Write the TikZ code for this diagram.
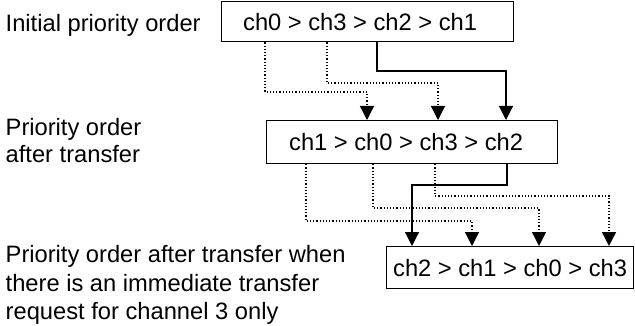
\documentclass[tikz,border=0pt]{standalone}
\usepackage{fontspec}
\setmainfont{Liberation Sans}
\usetikzlibrary{arrows.meta}
\begin{document}
\begin{tikzpicture}[x=1pt,y=-1pt,
  lbl/.style={inner sep=0pt, anchor=base west, font=\fontsize{23.7}{28}\selectfont},
  box/.style={draw, line width=1.2pt, inner sep=0pt, anchor=north west, font=\fontsize{23.7}{28}\selectfont},
  solidarrow/.style={line width=1.2pt, -{Triangle[length=14pt,width=14pt]}},
  dotarrow/.style={line width=1.3pt, dash pattern=on 1.2pt off 2pt, -{Triangle[length=14pt,width=14pt]}},
]
\useasboundingbox (0,0) rectangle (635,326);

% labels
\node[lbl] (l1) at (5.5,32) {Initial priority order};
\node[lbl] (l2a) at (5.5,136) {Priority order};
\node[lbl] (l2b) at (5.5,163) {after transfer};
\node[lbl] (l3a) at (5.5,262) {Priority order after transfer when};
\node[lbl] (l3b) at (5.5,291) {there is an immediate transfer};
\node[lbl] (l3c) at (5.5,319) {request for channel 3 only};

% boxes
\node[box, minimum width=292pt, minimum height=40.5pt] (b1) at (221,0.7) {\hspace*{-15pt}ch0 > ch3 > ch2 > ch1};
\node[box, minimum width=291pt, minimum height=43pt] (b2) at (266,120) {\hspace*{-12pt}ch1 > ch0 > ch3 > ch2};
\node[box, minimum width=247pt, minimum height=42pt] (b3) at (386,246) {ch2 > ch1 > ch0 > ch3};

% bend points
\coordinate (p1) at (265,92);  \coordinate (q1) at (367,92);
\coordinate (p2) at (327,83);  \coordinate (q2) at (438,83);
\coordinate (p3) at (377,71);  \coordinate (q3) at (506,71);
\coordinate (p4) at (306,221); \coordinate (q4) at (472,221);
\coordinate (p5) at (373,208); \coordinate (q5) at (539,208);
\coordinate (p6) at (435,196); \coordinate (q6) at (609,196);
\coordinate (p7) at (507,185); \coordinate (q7) at (412,185);

% connectors
\draw[dotarrow] (b1.south -| p1) -- (p1) -- (q1) -- (b2.north -| q1);
\draw[dotarrow] (b1.south -| p2) -- (p2) -- (q2) -- (b2.north -| q2);
\draw[solidarrow] (b1.south -| p3) -- (p3) -- (q3) -- (b2.north -| q3);
\draw[dotarrow] (b2.south -| p4) -- (p4) -- (q4) -- (b3.north -| q4);
\draw[dotarrow] (b2.south -| p5) -- (p5) -- (q5) -- (b3.north -| q5);
\draw[dotarrow] (b2.south -| p6) -- (p6) -- (q6) -- (b3.north -| q6);
\draw[solidarrow] (b2.south -| p7) -- (p7) -- (q7) -- (b3.north -| q7);
\end{tikzpicture}
\end{document}
